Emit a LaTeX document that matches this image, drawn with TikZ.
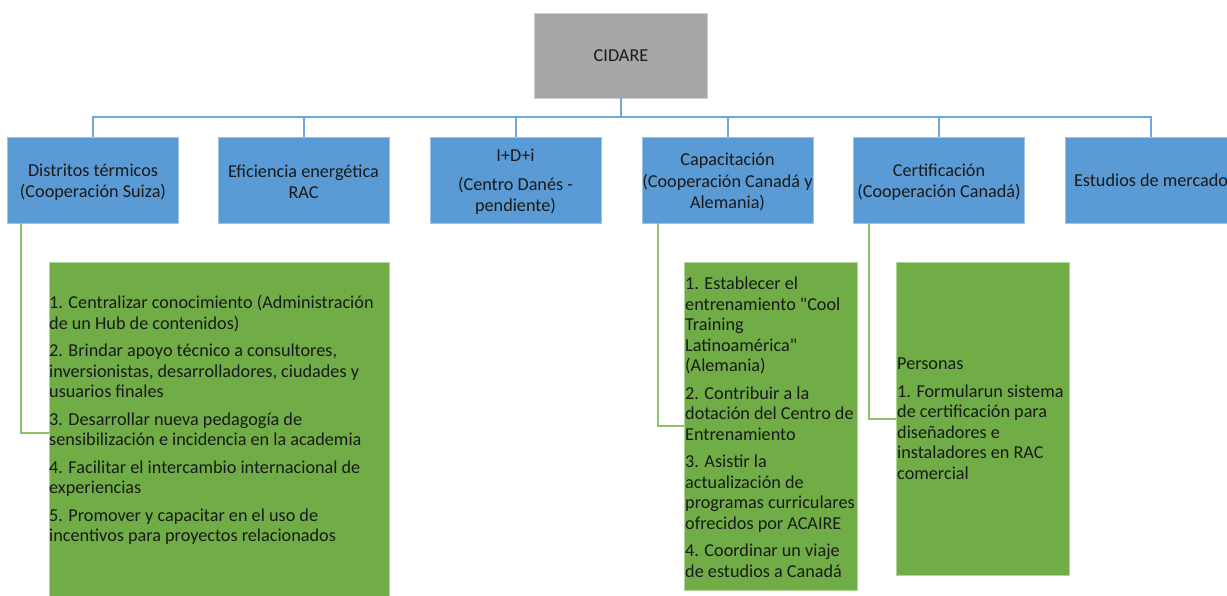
\documentclass[tikz,border=0pt]{standalone}
\usepackage{fontspec}
\setmainfont[Ligatures=TeXOff]{Carlito}
\definecolor{bluefill}{HTML}{5B9BD5}
\definecolor{blueedge}{HTML}{9DC3E6}
\definecolor{busline}{HTML}{6FA6DC}
\definecolor{grayfill}{HTML}{A6A6A6}
\definecolor{greenfill}{HTML}{70AD47}
\definecolor{greenline}{HTML}{8CC36A}
\definecolor{txt}{HTML}{1A1A1A}
\tikzset{
  basebox/.style={rectangle, inner sep=0pt, text=txt, align=center,
    font=\fontsize{18.2}{21.5}\selectfont, line width=0.8pt},
  topbox/.style={basebox, fill=grayfill, draw=gray!40, minimum width=173pt, minimum height=85pt},
  bluebox/.style={basebox, fill=bluefill, draw=blueedge, minimum width=171pt, minimum height=86pt},
  bluetext/.style={inner sep=0pt, text=txt, align=center, yshift=-2pt,
    font=\fontsize{18.2}{21.5}\selectfont},
  greenbox/.style={rectangle, inner sep=0pt, fill=greenfill, draw=greenline!70!white, line width=0.8pt},
  greentext/.style={inner sep=0pt, anchor=north west, align=left, text=txt,
    font=\fontsize{18.2}{20.5}\selectfont},
  bus/.style={draw=busline, line width=2pt},
  gline/.style={draw=greenline, line width=2pt},
}
\begin{document}
\begin{tikzpicture}[x=1pt,y=-1pt]
\useasboundingbox (0,0) rectangle (1227,595);
\clip (0,0) rectangle (1227,595);
\fill[white] (0,0) rectangle (1227,595);

\node[topbox] (cidare) at (621,55.5) {CIDARE};

\node[bluebox, label={[bluetext]center:Distritos térmicos\\(Cooperación Suiza)}] (b1) at (93,180) {};
\node[bluebox, label={[bluetext]center:Eficiencia energética\\RAC}] (b2) at (303.5,180) {};
\node[bluebox, label={[bluetext]center:I+D+i\\[7pt](Centro Danés -\\pendiente)}] (b3) at (515.5,180) {};
\node[bluebox, label={[bluetext]center:Capacitación\\(Cooperación Canadá y\\Alemania)}] (b4) at (727.5,180) {};
\node[bluebox, label={[bluetext]center:Certificación\\(Cooperación Canadá)}] (b5) at (939,180) {};
\node[bluebox] (b6) at (1151,180) {Estudios de mercado};

\coordinate (busy) at (0,117);
\foreach \b in {b1,b2,b3,b4,b5,b6}{
  \draw[bus] (cidare.south) -- (cidare.south |- busy) -| (\b.north);
}

\node[greenbox, minimum width=340pt, minimum height=342pt] (g1) at (219,433) {};
\node[greenbox, minimum width=173pt, minimum height=328pt] (g2) at (770.5,426) {};
\node[greenbox, minimum width=173pt, minimum height=313pt] (g3) at (982.5,418.5) {};

\draw[gline] ([xshift=14pt]b1.south west) |- (g1.west);
\draw[gline] ([xshift=16pt]b4.south west) |- (g2.west);
\draw[gline] ([xshift=16pt]b5.south west) |- (g3.west);

\node[greentext] (g1t) at (49,295) {1. Centralizar conocimiento (Administración\\de un Hub de contenidos)\\[7pt]2. Brindar apoyo técnico a consultores,\\inversionistas, desarrolladores, ciudades y\\usuarios finales\\[7pt]3. Desarrollar nueva pedagogía de\\sensibilización e incidencia en la academia\\[7pt]4. Facilitar el intercambio internacional de\\experiencias\\[7pt]5. Promover y capacitar en el uso de\\incentivos para proyectos relacionados};

\node[greentext] (g2t) at (685,277) {1. Establecer el\\entrenamiento "Cool\\Training\\Latinoamérica"\\(Alemania)\\[7pt]2. Contribuir a la\\dotación del Centro de\\Entrenamiento\\[7pt]3. Asistir la\\actualización de\\programas curriculares\\ofrecidos por ACAIRE\\[7pt]4. Coordinar un viaje\\de estudios a Canadá};

\node[greentext] (g3t) at (897,358) {Personas\\[7pt]1. Formularun sistema\\de certificación para\\diseñadores e\\instaladores en RAC\\comercial};
\end{tikzpicture}
\end{document}
